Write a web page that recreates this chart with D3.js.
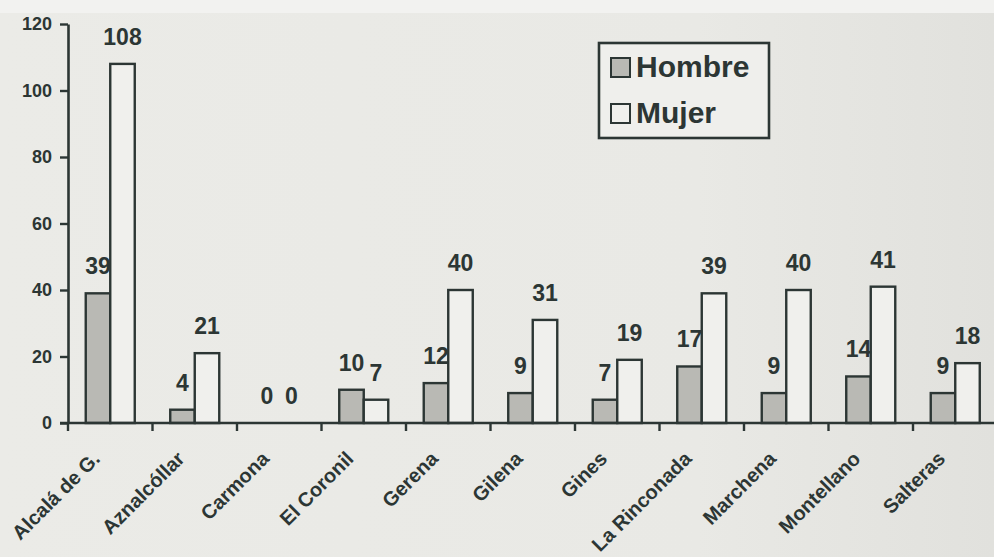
<!DOCTYPE html>
<html>
<head>
<meta charset="utf-8">
<script src="https://cdn.jsdelivr.net/npm/d3@7/dist/d3.min.js"></script>
<style>
  html, body { margin: 0; padding: 0; background: #eaeae6; }
  svg { display: block; }
</style>
</head>
<body>
<svg id="chart" width="994" height="557"></svg>
<script>
// Alumnado por municipio y sexo
const categories = ["Alcalá de G.", "Aznalcóllar", "Carmona", "El Coronil", "Gerena", "Gilena",
                    "Gines", "La Rinconada", "Marchena", "Montellano", "Salteras"];
const seriesNames = ["Hombre", "Mujer"];
const hombre = [39, 4, 0, 10, 12, 9, 7, 17, 9, 14, 9];
const mujer = [108, 21, 0, 7, 40, 31, 19, 39, 40, 41, 18];
const yTicks = [0, 20, 40, 60, 80, 100, 120];

const svg = d3.select("#chart");
const W = 994, H = 557;
const ink = "#2c3634";
const font = "'Liberation Sans', Arial, sans-serif";

// paper
const defs = svg.append("defs");
const grad = defs.append("linearGradient").attr("id", "paper")
  .attr("x1", 0).attr("y1", 0).attr("x2", 1).attr("y2", 0);
grad.append("stop").attr("offset", "0%").attr("stop-color", "#ebebe7");
grad.append("stop").attr("offset", "70%").attr("stop-color", "#e9e9e5");
grad.append("stop").attr("offset", "100%").attr("stop-color", "#e1e1dd");
svg.append("rect").attr("width", W).attr("height", H).attr("fill", "url(#paper)");
svg.append("rect").attr("width", W).attr("height", 13).attr("fill", "#f2f2f0");

// scales
const x0 = d3.scaleBand().domain(categories).range([68, 997.5]).padding(0);
const bw = x0.bandwidth();
const x1 = d3.scaleBand().domain(seriesNames).range([bw * 0.21, bw * 0.79]).padding(0);
const y = d3.scaleLinear().domain([0, 120]).range([423, 24]);

const fills = { Hombre: "#b9b9b4", Mujer: "#f0f0ed" };
const rows = categories.map((c, i) => ({ cat: c, values: [
  { key: "Hombre", value: hombre[i] }, { key: "Mujer", value: mujer[i] } ] }));

// bars
const groups = svg.append("g").selectAll("g").data(rows).join("g")
  .attr("transform", d => `translate(${x0(d.cat)},0)`);
groups.selectAll("rect").data(d => d.values.filter(v => v.value > 0)).join("rect")
  .attr("x", d => x1(d.key))
  .attr("y", d => y(d.value))
  .attr("width", x1.bandwidth())
  .attr("height", d => y(0) - y(d.value))
  .attr("fill", d => fills[d.key])
  .attr("stroke", ink).attr("stroke-width", 2.4);

// value labels
groups.selectAll("text").data(d => d.values).join("text")
  .attr("x", d => x1(d.key) + x1.bandwidth() / 2)
  .attr("y", d => y(d.value) - 19)
  .attr("text-anchor", "middle")
  .attr("font-family", font)
  .attr("font-weight", "bold").attr("font-size", 23)
  .attr("fill", ink)
  .text(d => d.value);

// y axis
const yAxis = svg.append("g").attr("transform", "translate(68,0)")
  .call(d3.axisLeft(y).tickValues(yTicks).tickSize(8).tickSizeOuter(0).tickPadding(8));
yAxis.select(".domain").attr("stroke", ink).attr("stroke-width", 2.6);
yAxis.selectAll(".tick line").attr("stroke", ink).attr("stroke-width", 2.4);
yAxis.selectAll(".tick text")
  .attr("font-family", font)
  .attr("font-weight", "bold").attr("font-size", 18).attr("fill", ink);

// x axis line and group separators
const xAxis = svg.append("g");
xAxis.append("line").attr("x1", 60).attr("x2", W).attr("y1", y(0)).attr("y2", y(0))
  .attr("stroke", ink).attr("stroke-width", 2.6);
xAxis.selectAll("line.sep").data(categories).join("line")
  .attr("class", "sep")
  .attr("x1", d => x0(d)).attr("x2", d => x0(d))
  .attr("y1", y(0)).attr("y2", y(0) + 8)
  .attr("stroke", ink).attr("stroke-width", 2.4);
xAxis.selectAll("text").data(categories).join("text")
  .attr("transform", d => `translate(${x0(d) + bw / 2 - 9},${y(0) + 37}) rotate(-45)`)
  .attr("text-anchor", "end")
  .attr("font-family", font)
  .attr("font-weight", "bold").attr("font-size", 20).attr("fill", ink)
  .text(d => d);

// legend
const legend = svg.append("g");
legend.append("rect").attr("x", 599).attr("y", 43).attr("width", 170).attr("height", 95)
  .attr("fill", "#efefec").attr("stroke", ink).attr("stroke-width", 2.6);
const li = legend.selectAll("g").data(seriesNames).join("g")
  .attr("transform", (d, i) => `translate(611,${58 + i * 46})`);
li.append("rect").attr("width", 19).attr("height", 19)
  .attr("fill", d => fills[d]).attr("stroke", ink).attr("stroke-width", 2);
li.append("text").attr("x", 25).attr("y", 19)
  .attr("font-family", font)
  .attr("font-weight", "bold").attr("font-size", 30).attr("fill", ink)
  .text(d => d);
</script>
</body>
</html>
